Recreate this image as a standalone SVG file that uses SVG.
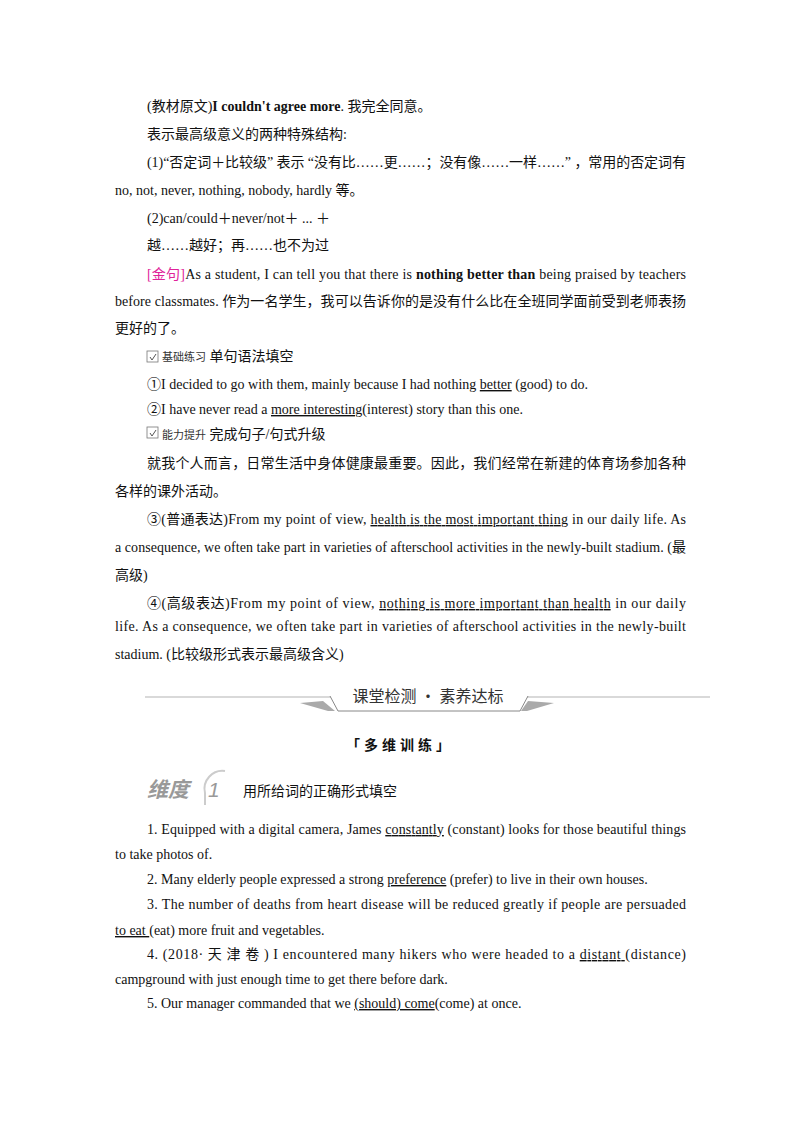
<svg xmlns="http://www.w3.org/2000/svg" width="800" height="1132" viewBox="0 0 800 1132">
<style>
text{font-family:"Liberation Serif","Noto Sans CJK SC",serif;font-size:14px;fill:#111}
.c{font-family:"Noto Sans CJK SC",sans-serif}
.u{text-decoration:underline}
.b{font-weight:bold}
.m{fill:#e0239a}
.s{font-size:11px;font-family:"Noto Sans CJK SC",sans-serif;fill:#333}
.box{fill:#fff;stroke:#777;stroke-width:0.8}
</style>
<rect width="800" height="1132" fill="#fff"/>
<text x="147" y="111">(教材原文)<tspan class="b">I couldn't agree more</tspan>. 我完全同意。</text>
<text x="147" y="139">表示最高级意义的两种特殊结构:</text>
<text x="147" y="167" textLength="539" lengthAdjust="spacing">(1)“否定词＋比较级” 表示 “没有比……更……；没有像……一样……” ，常用的否定词有</text>
<text x="115" y="195">no, not, never, nothing, nobody, hardly 等。</text>
<text x="147" y="223">(2)can/could＋never/not＋ ... ＋</text>
<text x="147" y="250">越……越好；再……也不为过</text>
<text x="147" y="279" textLength="539" lengthAdjust="spacing"><tspan class="m">[金句]</tspan>As a student, I can tell you that there is <tspan class="b">nothing better than</tspan> being praised by teachers</text>
<text x="115" y="306" textLength="571" lengthAdjust="spacing">before classmates. 作为一名学生，我可以告诉你的是没有什么比在全班同学面前受到老师表扬</text>
<text x="115" y="333">更好的了。</text>
<rect class="box" x="147" y="351" width="11" height="11"/><path d="M150 357l2 3 4-6" stroke="#555" fill="none"/>
<text x="162" y="361"><tspan class="s">基础练习</tspan> 单句语法填空</text>
<text x="147" y="389">①I decided to go with them, mainly because I had nothing <tspan class="u">better</tspan> (good) to do.</text>
<text x="147" y="414">②I have never read a <tspan class="u">more  interesting</tspan>(interest) story than this one.</text>
<rect class="box" x="147" y="427" width="11" height="11"/><path d="M150 433l2 3 4-6" stroke="#555" fill="none"/>
<text x="162" y="439"><tspan class="s">能力提升</tspan> 完成句子/句式升级</text>
<text x="147" y="468" textLength="539" lengthAdjust="spacing">就我个人而言，日常生活中身体健康最重要。因此，我们经常在新建的体育场参加各种</text>
<text x="115" y="496">各样的课外活动。</text>
<text x="147" y="524" textLength="539" lengthAdjust="spacing">③(普通表达)From my point of view, <tspan class="u">health  is  the  most  important  thing</tspan> in our daily life. As</text>
<text x="115" y="552" textLength="571" lengthAdjust="spacing">a consequence, we often take part in varieties of afterschool activities in the newly-built stadium. (最</text>
<text x="115" y="580">高级)</text>
<text x="147" y="608" textLength="539" lengthAdjust="spacing">④(高级表达)From my point of view, <tspan class="u">nothing  is  more  important  than  health</tspan> in our daily</text>
<text x="115" y="631" textLength="571" lengthAdjust="spacing">life. As a consequence, we often take part in varieties of afterschool activities in the newly-built</text>
<text x="115" y="659">stadium. (比较级形式表示最高级含义)</text>
<g id="banner">
<line x1="145" y1="697" x2="710" y2="697" stroke="#ccc" stroke-width="1.5"/>
<path d="M300 703l28 8 7 0-12-10z" fill="#aaa"/>
<path d="M330 696l8 15h182l8-15" fill="#fff" stroke="#888" stroke-width="1"/>
<path d="M528 701l-7 10h6l27-8z" fill="#aaa"/>
<text x="428" y="702" text-anchor="middle" class="c" style="font-size:16px;fill:#333">课堂检测 · 素养达标</text>
</g>
<text x="400" y="750" text-anchor="middle" class="c b" style="font-size:14px;letter-spacing:4px">「多维训练」</text>
<g id="dim">
<path d="M225 771a18 18 0 0 0-20 22v12" fill="none" stroke="#ccc" stroke-width="2"/>
<text x="147" y="797" class="c b" style="font-size:21px;font-style:italic;fill:#999">维度</text>
<text x="208" y="797" style="font-family:'Liberation Sans',sans-serif;font-size:21px;font-style:italic;fill:#999">1</text>
<text x="243" y="796" class="c" style="font-size:14px">用所给词的正确形式填空</text>
</g>
<text x="147" y="834" textLength="539" lengthAdjust="spacing">1. Equipped with a digital camera, James <tspan class="u">constantly</tspan> (constant) looks for those beautiful things</text>
<text x="115" y="859">to take photos of.</text>
<text x="147" y="884">2. Many elderly people expressed a strong <tspan class="u">preference</tspan> (prefer) to live in their own houses.</text>
<text x="147" y="909" textLength="539" lengthAdjust="spacing">3. The number of deaths from heart disease will be reduced greatly if people are persuaded</text>
<text x="115" y="935"><tspan class="u">to  eat  </tspan>(eat) more fruit and vegetables.</text>
<text x="147" y="959" textLength="539" lengthAdjust="spacing">4. (2018· 天 津 卷 ) I encountered many hikers who were headed to a <tspan class="u">distant </tspan>(distance)</text>
<text x="115" y="984">campground with just enough time to get there before dark.</text>
<text x="147" y="1008">5. Our manager commanded that we <tspan class="u">(should)  come</tspan>(come) at once.</text>
</svg>
